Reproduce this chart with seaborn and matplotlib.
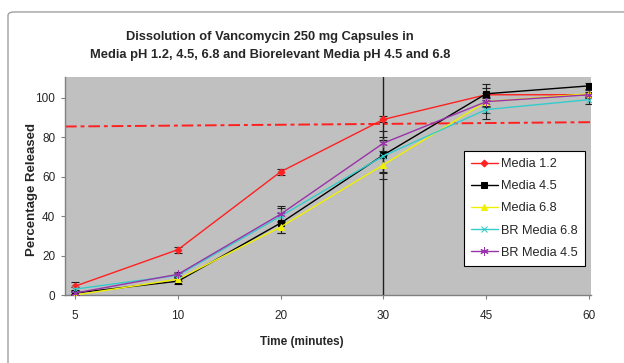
import matplotlib
matplotlib.use("Agg")
import matplotlib.pyplot as plt
from matplotlib.patches import FancyBboxPatch
import seaborn as sns
import pandas as pd

times = ["5", "10", "20", "30", "45", "60"]
series_names = ["Media 1.2", "Media 4.5", "Media 6.8", "BR Media 6.8", "BR Media 4.5"]
media_12 = [4.5, 23, 62.5, 89, 101.5, 101.5]
media_45 = [1, 7, 36.5, 71, 102, 106]
media_68 = [0, 8, 34.5, 66, 98, 102]
br_68 = [3, 10, 40, 70.5, 94, 99]
br_45 = [1, 10.5, 41, 77, 98, 101.5]
err_12 = [2, 1.5, 1.5, 1.5, 1, 1]
err_45 = [1, 1.5, 5, 9, 3, 1.5]
err_68 = [0.5, 1, 3, 7, 9, 2]
err_br68 = [1, 1, 4, 8, 1.5, 2]
err_br45 = [0.5, 1, 4, 6, 2, 1.5]
threshold = [85.4, 87.6]
yticks = [0, 20, 40, 60, 80, 100]

values = [media_12, media_45, media_68, br_68, br_45]
errs = [err_12, err_45, err_68, err_br68, err_br45]
colors = ["#FF2020", "#000000", "#F0F000", "#33CCCC", "#9933AA"]
markers = ["D", "s", "^", "x", (6, 2, 0)]
msizes = [3.5, 5, 5, 5, 6]

sns.set_theme(style="white")
plt.rcParams["font.family"] = ["Liberation Sans", "DejaVu Sans"]

fig = plt.figure(figsize=(6.24, 3.63), dpi=100)
fig.patch.set_facecolor("white")
frame = FancyBboxPatch((8 / 624, -0.1), 1.1, 0.967 + 0.1, boxstyle="round,pad=0,rounding_size=0.01",
                       transform=fig.transFigure, facecolor="white", edgecolor="#A0A0A0", lw=1.0,
                       zorder=-10)
fig.patches.append(frame)

ax = fig.add_axes([65 / 624, 1 - 295 / 363, (591 - 65) / 624, (295 - 77) / 363])
ax.set_zorder(5)
ax.set_facecolor("#C0C0C0")

rows = []
for name, vals in zip(series_names, values):
    for i, (t, v) in enumerate(zip(times, vals)):
        rows.append({"series": name, "x": i, "value": v})
df = pd.DataFrame(rows)

for name, vals, er, c, m, ms in zip(series_names, values, errs, colors, markers, msizes):
    sub = df[df["series"] == name]
    ax.errorbar(sub["x"], sub["value"], yerr=er, fmt="none", ecolor="#202020",
                elinewidth=0.8, capsize=3, capthick=0.8, zorder=3)
    sns.lineplot(data=sub, x="x", y="value", ax=ax, color=c, marker=m, markersize=ms,
                 markeredgecolor=c, markerfacecolor=c, linewidth=1.0, label=name,
                 errorbar=None, zorder=4)

xlim = (-0.1, 5.02)
ax.plot(list(xlim), threshold, color="#FF2020", lw=1.4, linestyle=(0, (6, 2, 2, 2)), zorder=2)
ax.axvline(3, color="#202020", lw=1.0, zorder=3)

ax.set_xlim(*xlim)
ax.set_ylim(0, 110.5)
ax.set_xticks(range(len(times)))
ax.set_xticklabels(times, fontsize=8.5)
ax.set_yticks(yticks)
ax.set_yticklabels([str(v) for v in yticks], fontsize=8.5)
ax.tick_params(axis="both", direction="out", length=3, width=0.8, color="#808080", pad=4,
               bottom=True, left=True)
ax.tick_params(axis="x", pad=8)
for s in ["top", "right"]:
    ax.spines[s].set_visible(False)
for s in ["left", "bottom"]:
    ax.spines[s].set_color("#808080")
    ax.spines[s].set_linewidth(1.0)
ax.set_xlabel("")
ax.set_ylabel("")

fig.text(32 / 624, 1 - 190 / 363, "Percentage Released", rotation=90, ha="center", va="center",
         fontsize=9.5, fontweight="bold")
fig.text(302 / 624, 1 - 342 / 363, "Time (minutes)", ha="center", va="center",
         fontsize=8.5, fontweight="bold")
fig.text(270 / 624, 1 - 46 / 363,
         "Dissolution of Vancomycin 250 mg Capsules in\nMedia pH 1.2, 4.5, 6.8 and Biorelevant Media pH 4.5 and 6.8",
         ha="center", va="center", fontsize=9.3, fontweight="bold", linespacing=1.6)

leg = ax.legend(loc="upper left", bbox_to_anchor=((464 - 65) / 526, (295 - 151) / 218),
                frameon=True, fancybox=False, fontsize=9.2, labelspacing=0.8,
                handlelength=2.1, borderpad=0.55, handletextpad=0.25, borderaxespad=0)
leg.get_frame().set_edgecolor("black")
leg.get_frame().set_linewidth(0.8)
leg.get_frame().set_facecolor("white")
leg.get_frame().set_alpha(1)

fig.savefig("out.png", dpi=100)
